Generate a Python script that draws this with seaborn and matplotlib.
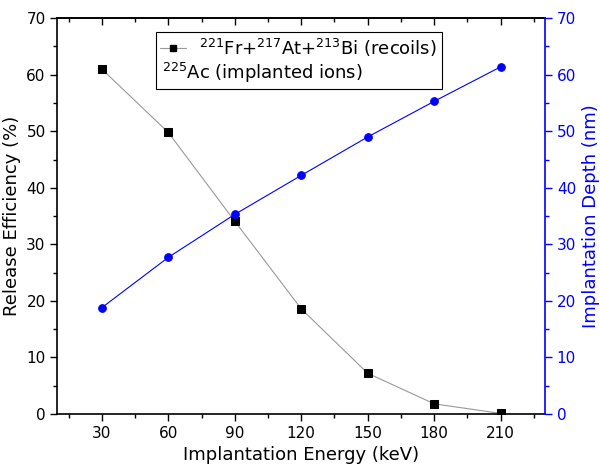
import matplotlib
matplotlib.use("Agg")
import matplotlib.pyplot as plt
import seaborn as sns
import pandas as pd
from matplotlib.lines import Line2D
from matplotlib.ticker import MultipleLocator

energy = [30, 60, 90, 120, 150, 180, 210]
release = [61.0, 49.8, 34.1, 18.6, 7.2, 1.8, 0.1]
depth = [18.8, 27.7, 35.3, 42.2, 49.0, 55.3, 61.4]

df = pd.DataFrame({"energy": energy, "release": release, "depth": depth})

sns.set_theme(style="ticks")
plt.rcParams['font.family'] = ['DejaVu Sans']
plt.rcParams['text.color'] = 'black'
plt.rcParams['axes.labelcolor'] = 'black'

fig = plt.figure(figsize=(6, 4.68), dpi=100)
ax = fig.add_axes([0.0958, 0.1154, 0.8125, 0.8457])
ax2 = ax.twinx()

sns.lineplot(data=df, x="energy", y="release", ax=ax, color="#999999", lw=0.8,
             marker="s", markersize=5.2, markerfacecolor="black", markeredgecolor="black")
sns.lineplot(data=df, x="energy", y="depth", ax=ax2, color="blue", lw=0.8,
             marker="o", markersize=5.5, markerfacecolor="blue", markeredgecolor="blue")

ax.set_xlim(10, 230)
ax.set_ylim(0, 70)
ax2.set_ylim(0, 70)
ax.xaxis.set_major_locator(MultipleLocator(30))
ax.xaxis.set_minor_locator(MultipleLocator(15))
ax.yaxis.set_major_locator(MultipleLocator(10))
ax.yaxis.set_minor_locator(MultipleLocator(5))
ax2.yaxis.set_major_locator(MultipleLocator(10))
ax2.yaxis.set_minor_locator(MultipleLocator(5))

ax.tick_params(axis="both", which="major", direction="out", length=5, width=1, labelsize=11, colors="black")
ax.tick_params(axis="both", which="minor", direction="out", length=3, width=1, colors="black")
ax2.tick_params(axis="y", which="major", direction="out", length=5, width=1, labelsize=11, colors="blue")
ax2.tick_params(axis="y", which="minor", direction="out", length=3, width=1, colors="blue")

sec = ax.secondary_xaxis("top")
sec.xaxis.set_major_locator(MultipleLocator(30))
sec.xaxis.set_minor_locator(MultipleLocator(15))
sec.tick_params(axis="x", which="major", direction="in", length=5, width=1, labeltop=False, colors="black")
sec.tick_params(axis="x", which="minor", direction="in", length=3, width=1, colors="black")
sec.spines["top"].set_color("black")
sec.spines["top"].set_linewidth(1.2)

for s in ["left", "bottom", "top"]:
    ax.spines[s].set_color("black")
    ax.spines[s].set_linewidth(1.2)
ax2.spines["right"].set_color("blue")
ax2.spines["right"].set_linewidth(1.2)
ax.spines["right"].set_visible(False)
for s in ["left", "bottom", "top"]:
    ax2.spines[s].set_visible(False)

ax.set_xlabel("Implantation Energy (keV)", fontsize=13, labelpad=4, color="black")
ax.set_ylabel("Release Efficiency (%)", fontsize=13, labelpad=4, color="black")
ax2.set_ylabel("Implantation Depth (nm)", fontsize=13, color="blue", labelpad=4)

h1 = Line2D([], [], color="#999999", lw=0.8, marker="s", markersize=5,
            markerfacecolor="black", markeredgecolor="black")
h2 = Line2D([], [], color="none", lw=0)
fs = 13
hl, htp = 1.4, 0.75
leg = ax.legend([h1, h2],
                [r"$^{221}$Fr+$^{217}$At+$^{213}$Bi (recoils)", r"$^{225}$Ac (implanted ions)"],
                loc="upper center", bbox_to_anchor=(0.495, 0.965), fontsize=fs,
                frameon=True, fancybox=False, edgecolor="black", framealpha=1,
                handlelength=hl, handletextpad=htp, borderpad=0.25, labelspacing=0.1,
                borderaxespad=0)
leg.get_frame().set_linewidth(0.8)
for t in leg.get_texts():
    t.set_color("black")
shift_px = (hl + htp) * fs * fig.dpi / 72.0 - 2
leg.get_texts()[1].set_x(-shift_px)

fig.savefig("out.png", dpi=100)
